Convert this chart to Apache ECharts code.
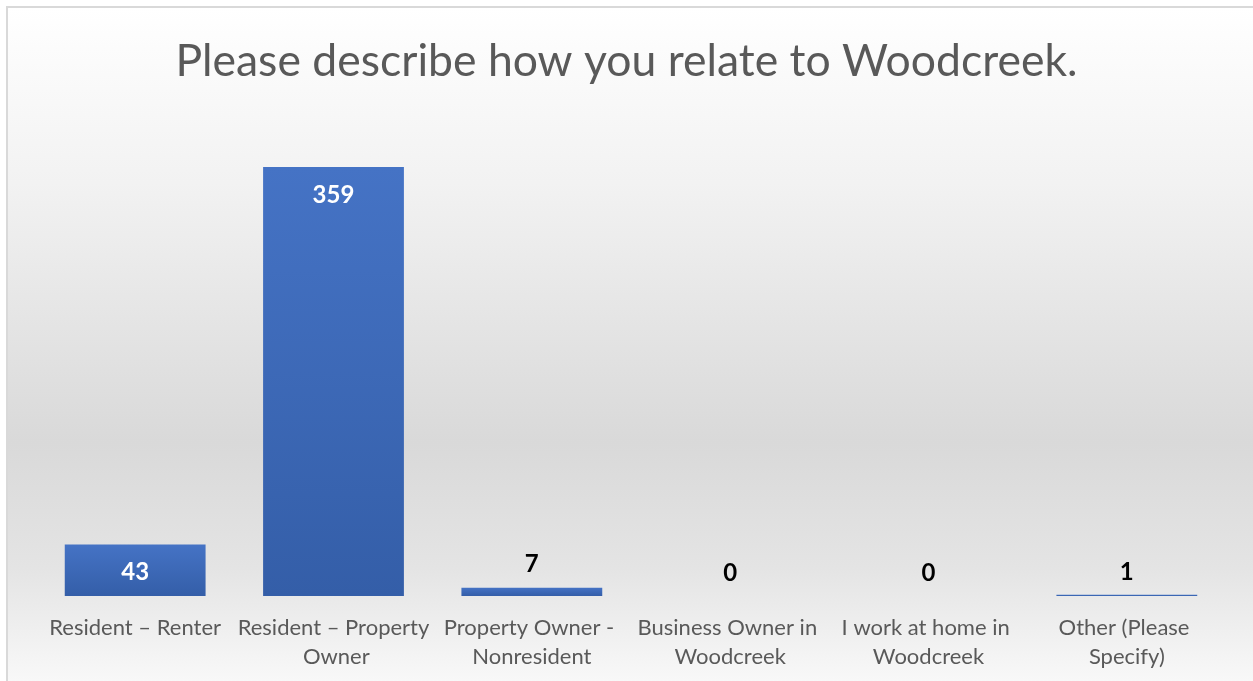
<!DOCTYPE html>
<html>
<head>
<meta charset="utf-8">
<script src="https://cdn.jsdelivr.net/npm/echarts@6/dist/echarts.min.js"></script>
<style>
  html, body { margin: 0; padding: 0; background: #fff; overflow: hidden; }
  .frame {
    position: absolute; left: 6px; top: 6px; width: 1260px; height: 700px;
    border: 2px solid #d9d9d9;
    background: linear-gradient(to bottom, #ffffff 0%, #f2f2f2 25%, #d9d9d9 62%, #e4e4e4 80%, #fdfdfd 100%);
  }
  #chart { position: absolute; left: 0; top: 0; width: 1253px; height: 681px; }
</style>
</head>
<body>
<div class="frame"></div>
<div id="chart"></div>
<script>
// 数据
var titleText = 'Please describe how you relate to Woodcreek.';
var categories = [
  'Resident – Renter',
  'Resident – Property Owner',
  'Property Owner - Nonresident',
  'Business Owner in Woodcreek',
  'I work at home in Woodcreek',
  'Other (Please Specify)'
];
var counts = [43, 359, 7, 0, 0, 1];

var font = 'Lato, "Open Sans", sans-serif';

// big bars get white label inside, small ones a black label on top
var barData = counts.map(function (v) {
  if (v > 20) {
    return {
      value: v,
      label: { position: 'insideTop', distance: 16, color: '#ffffff' }
    };
  }
  return {
    value: v,
    label: { position: 'top', distance: 11, color: '#000000' }
  };
});

var mychart = echarts.init(document.getElementById('chart'));
var option = {
  backgroundColor: 'transparent',
  title: {
    text: titleText,
    left: 'center',
    top: 34,
    textStyle: {
      fontFamily: font,
      fontSize: 44.5,
      fontWeight: 'normal',
      color: '#595959'
    }
  },
  grid: {
    left: 36,
    right: 27,
    top: 118,
    bottom: 85,
    containLabel: false
  },
  xAxis: {
    type: 'category',
    data: categories,
    axisLine: { show: false },
    axisTick: { show: false },
    axisLabel: {
      interval: 0,
      margin: 17,
      width: 206,
      overflow: 'break',
      lineHeight: 29,
      fontFamily: font,
      fontSize: 22,
      color: '#595959'
    }
  },
  yAxis: {
    type: 'value',
    min: 0,
    max: 400,
    show: false,
    splitLine: { show: false }
  },
  series: [
    {
      type: 'bar',
      data: barData,
      barCategoryGap: '29%',
      itemStyle: {
        color: new echarts.graphic.LinearGradient(0, 0, 0, 1, [
          { offset: 0, color: '#4573c5' },
          { offset: 1, color: '#345ea8' }
        ])
      },
      label: {
        show: true,
        fontFamily: font,
        fontSize: 24,
        fontWeight: 'bold'
      }
    }
  ]
};
mychart.setOption(option);
</script>
</body>
</html>
